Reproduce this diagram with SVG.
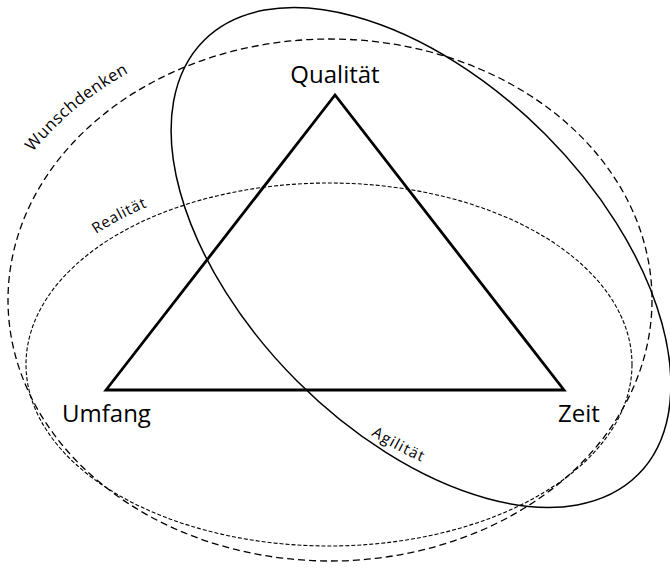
<svg xmlns="http://www.w3.org/2000/svg" width="670" height="567" viewBox="0 0 670 567">
  <style>
    .vertex { font-family: "Open Sans", "Liberation Sans", sans-serif; font-size: 24px; fill: #000; }
    .tag { font-family: "Open Sans", "Liberation Sans", sans-serif; fill: #000; }
    .wish { fill: none; stroke: #000; stroke-width: 1.3; stroke-dasharray: 7 4; }
    .real { fill: none; stroke: #000; stroke-width: 1.1; stroke-dasharray: 4 2; }
    .agile { fill: none; stroke: #000; stroke-width: 1.5; }
    .tri { fill: none; stroke: #000; stroke-width: 2.8; stroke-linejoin: miter; }
  </style>
  <defs>
    <path id="arcWish" d="M 33,152 A 347 286 0 0 1 130,72"/>
    <path id="arcReal" d="M 96,234 A 318 196 0 0 1 149,206"/>
    <path id="arcAgile" d="M 371,435 A 292 162 45 0 0 422,462"/>
  </defs>
  <rect width="670" height="567" fill="#fff"/>

  <!-- Wunschdenken: wide dashed ellipse -->
  <g id="wunschdenken">
    <ellipse class="wish" cx="330" cy="300" rx="322" ry="261"/>
    <text class="tag" font-size="16.5"><textPath href="#arcWish" textLength="125" lengthAdjust="spacing">Wunschdenken</textPath></text>
  </g>

  <!-- Realität: finely dashed ellipse -->
  <g id="realitaet">
    <ellipse class="real" cx="329" cy="364.5" rx="303" ry="181.5"/>
    <text class="tag" font-size="15"><textPath href="#arcReal" textLength="58" lengthAdjust="spacing">Realität</textPath></text>
  </g>

  <!-- Agilität: tilted solid ellipse -->
  <g id="agilitaet">
    <ellipse class="agile" cx="421" cy="257.5" rx="307" ry="175" transform="rotate(45 421 257.5)"/>
    <text class="tag" font-size="15"><textPath href="#arcAgile" textLength="57" lengthAdjust="spacing">Agilität</textPath></text>
  </g>

  <!-- project triangle -->
  <g id="dreieck">
    <polygon class="tri" points="335,95 106,390 564,390"/>
  </g>

  <g id="qualitaet">
    <text class="vertex" x="335" y="83" text-anchor="middle">Qualität</text>
  </g>
  <g id="umfang">
    <text class="vertex" x="62" y="422">Umfang</text>
  </g>
  <g id="zeit">
    <text class="vertex" x="558" y="422">Zeit</text>
  </g>
</svg>
